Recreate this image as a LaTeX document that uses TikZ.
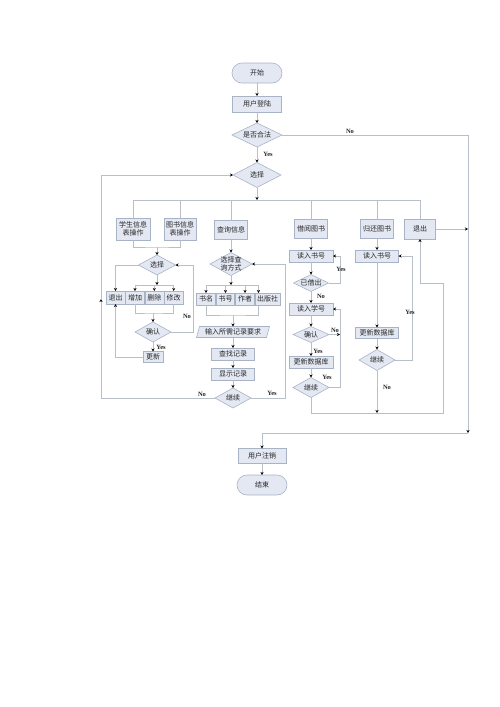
\documentclass[tikz,border=0pt]{standalone}
\usepackage{fontspec}
\setmainfont{Liberation Serif}
\newfontfamily\cjk{Noto Sans CJK SC}
\usepackage{xcolor}
\usepackage{tikz}
\usetikzlibrary{shapes.geometric,arrows.meta,positioning,calc}
\definecolor{boxfill}{HTML}{E3E8F2}
\definecolor{boxline}{HTML}{A9B3C6}
\definecolor{flowline}{HTML}{B9BFC9}
\definecolor{labeltext}{HTML}{262626}

\begin{document}
\begin{tikzpicture}[
    x=1pt,
    y=-1pt,
    every node/.style={inner sep=0pt, outer sep=0pt},
    block/.style={
        rectangle,
        fill=boxfill,
        draw=boxline,
        line width=0.6pt,
        align=center,
        font=\cjk\fontsize{7}{8.5}\selectfont,
        text=labeltext
    },
    terminal/.style={
        block,
        rounded corners=10pt,
        minimum width=50pt,
        minimum height=20pt
    },
    topbox/.style={block, minimum width=33pt, minimum height=19pt},
    stepbox/.style={block, minimum width=44pt, minimum height=12pt},
    rowbox/.style={block, minimum width=19pt, minimum height=13pt},
    decision/.style={block, diamond, aspect=2},
    inputbox/.style={
        block,
        trapezium,
        trapezium left angle=65,
        trapezium right angle=115,
        trapezium stretches body=true,
        minimum width=73pt,
        minimum height=11pt
    },
    flow/.style={
        line width=0.6pt,
        color=flowline
    },
    arrow/.style={
        flow,
        ->,
        >={Stealth[length=3pt, width=3pt, color=black]}
    },
    yesno/.style={
        font=\bfseries\fontsize{6.5}{7}\selectfont,
        text=labeltext
    }
]
\useasboundingbox (0,0) rectangle (500,707);

% Main line
\node[terminal] (start) at (257,73) {开始};
\node[block, minimum width=49pt, minimum height=16pt] (login) at (257,104) {用户登陆};
\node[decision, minimum width=50pt, minimum height=24pt] (legal) at (257,135) {是否合法};
\node[decision, minimum width=48pt, minimum height=25pt] (choose) at (257,175) {选择};

% Six branches
\node[topbox, minimum width=34pt, minimum height=22pt] (stuop) at (133,229) {学生信息\\表操作};
\node[topbox, minimum width=32pt, minimum height=22pt] (bookop) at (180,229) {图书信息\\表操作};
\node[topbox] (query) at (231,230) {查询信息};
\node[topbox] (borrow) at (311,229) {借阅图书};
\node[topbox] (giveback) at (377,229) {归还图书};
\node[topbox, minimum width=31pt, minimum height=20pt] (quit) at (420,229) {退出};

% Table operations
\node[decision, minimum width=37pt, minimum height=20pt] (stusel) at (157,265) {选择};
\node[rowbox] (rquit) at (115.5,297.5) {退出};
\node[rowbox] (radd) at (135,297.5) {增加};
\node[rowbox] (rdel) at (154.3,297.5) {删除};
\node[rowbox] (rmod) at (173.7,297.5) {修改};
\node[decision, minimum width=36pt, minimum height=20pt] (stuconf) at (153,332) {确认};
\node[block, minimum width=20pt, minimum height=11pt] (stuupd) at (153,357) {更新};

% Query
\node[decision, minimum width=42pt, minimum height=23pt, inner sep=-2pt] (qway) at (231,264) {选择查\\询方式};
\node[rowbox, minimum height=12pt] (bname) at (206,299) {书名};
\node[rowbox, minimum width=18pt, minimum height=12pt] (bno) at (225.5,299) {书号};
\node[rowbox, minimum height=12pt] (bauth) at (245,299) {作者};
\node[rowbox, minimum width=25pt, minimum height=12pt] (bpub) at (267.5,299) {出版社};
\node[inputbox] (qinput) at (233,332) {输入所需记录要求};
\node[stepbox, minimum width=43pt] (qfind) at (233,354) {查找记录};
\node[stepbox, minimum width=43pt] (qshow) at (233,374) {显示记录};
\node[decision, minimum width=36pt, minimum height=20pt] (qcont) at (233,398) {继续};

% Borrow
\node[stepbox] (bnum) at (311,256) {读入书号};
\node[decision, minimum width=35pt, minimum height=16pt] (blent) at (311,283) {已借出};
\node[stepbox] (bstu) at (311,309) {读入学号};
\node[decision, minimum width=36pt, minimum height=16pt] (bconf) at (311,334.5) {确认};
\node[stepbox] (bupd) at (311,362) {更新数据库};
\node[decision, minimum width=36pt, minimum height=20pt] (bcont) at (311,387.5) {继续};

% Give back
\node[stepbox, minimum width=43pt] (gnum) at (377,256) {读入书号};
\node[stepbox, minimum width=43pt, minimum height=11pt] (gupd) at (377,333) {更新数据库};
\node[decision, minimum width=36pt, minimum height=21pt] (gcont) at (377,360) {继续};

% End
\node[block, minimum width=48pt, minimum height=15pt] (logout) at (262,456) {用户注销};
\node[terminal] (finish) at (262,485) {结束};

% Junctions
\coordinate (busR) at (420,200);
\coordinate (stujoin) at (157,247);
\coordinate (selbus) at (157,285);
\coordinate (rowjoin) at (153,313);
\coordinate (selret) at (193,265);
\coordinate (loopL) at (101,299);
\coordinate (qbus) at (231,285);
\coordinate (qjoin) at (233,315);
\coordinate (qret) at (285,264);
\coordinate (pubtop) at ([xshift=-9pt]bpub.north);
\coordinate (pubbot) at ([xshift=-9pt]bpub.south);
\coordinate (lentret) at (340,256);
\coordinate (sturet) at (340,309);
\coordinate (gret) at (412,256);
\coordinate (retB) at (443,413);
\coordinate (retT) at (443,283);
\coordinate (exitR) at (468,433);

% Main connections
\draw[arrow] (start) -- (login);
\draw[arrow] (login) -- (legal);
\draw[arrow] (legal) -- (choose);
\draw[arrow] (legal.east) -| (exitR);
\draw[arrow] (exitR) -| (logout.north);
\draw[arrow] (logout) -- (finish);
\draw[arrow] (choose) -- (choose |- busR);
\draw[flow] (stuop.north) |- (busR) -- (quit.north);
\foreach \branch in {bookop, query, borrow, giveback} {
    \draw[flow] (\branch.north) -- (\branch.north |- busR);
}
\draw[arrow] (quit.east) -- (quit.east -| exitR);
\draw[arrow] (qcont.west) -| (loopL);
\draw[arrow] (loopL) |- (choose.west);

% Table operations
\draw[flow] (stuop.south) |- (stujoin) -| (bookop.south);
\draw[arrow] (stujoin) -- (stusel);
\draw[arrow] (stusel.west) -| (rquit.north);
\draw[arrow] (stusel) -- (selbus);
\draw[flow] (radd.north |- selbus) -- (rmod.north |- selbus);
\foreach \op in {radd, rdel, rmod} {
    \draw[arrow] (\op.north |- selbus) -- (\op.north);
}
\draw[flow] (radd.south) |- (rowjoin) -| (rmod.south);
\draw[arrow] (rowjoin) -- (stuconf);
\draw[arrow] (stuconf) -- (stuupd);
\draw[arrow] (stuupd.west) -| (rquit.south);
\draw[arrow] (stuconf.east) -| (selret) -- (stusel.east);

% Query
\draw[arrow] (query) -- (qway);
\draw[arrow] (qway) -- (qbus);
\draw[flow] (bname.north |- qbus) -- (pubtop |- qbus);
\foreach \key in {bname, bno, bauth} {
    \draw[arrow] (\key.north |- qbus) -- (\key.north);
}
\draw[arrow] (pubtop |- qbus) -- (pubtop);
\draw[flow] (bname.south) |- (qjoin) -| (pubbot);
\draw[arrow] (qjoin) -- (qinput);
\draw[arrow] (qinput) -- (qfind);
\draw[arrow] (qfind) -- (qshow);
\draw[arrow] (qshow) -- (qcont);
\draw[arrow] (qcont.east) -| (qret) -- (qway.east);

% Borrow
\draw[arrow] (borrow) -- (bnum);
\draw[arrow] (bnum) -- (blent);
\draw[arrow] (blent) -- (bstu);
\draw[arrow] (bstu) -- (bconf);
\draw[arrow] (bconf) -- (bupd);
\draw[arrow] (bupd) -- (bcont);
\draw[arrow] (blent.east) -| (lentret) -- (bnum.east);
\draw[arrow] (bcont.east) -| (sturet) -- (bstu.east);
\draw[arrow] (bconf.east) -- (bconf.east -| sturet);
\draw[arrow] (bcont.south) |- (retB) -- (retT) -| (quit.south);

% Give back
\draw[arrow] (giveback) -- (gnum);
\draw[arrow] (gnum) -- (gupd);
\draw[arrow] (gupd) -- (gcont);
\draw[arrow] (gcont.east) -| (gret) -- (gnum.east);
\draw[arrow] (gcont.south) -- (gcont.south |- retB);

% Yes / No labels
\node[yesno] (nolegal) at (350,131) {No};
\node[yesno] (yeslegal) at (268,154) {Yes};
\node[yesno] (nosel) at (187,316) {No};
\node[yesno] (yessel) at (161,347) {Yes};
\node[yesno] (noq) at (202,394) {No};
\node[yesno] (yesq) at (272,393) {Yes};
\node[yesno] (yeslent) at (341,269) {Yes};
\node[yesno] (nolent) at (321,296) {No};
\node[yesno] (nobconf) at (335,330) {No};
\node[yesno] (yesbconf) at (318,351) {Yes};
\node[yesno] (yesbcont) at (327,377) {Yes};
\node[yesno] (yesgcont) at (410,312) {Yes};
\node[yesno] (nogcont) at (387,387) {No};

\end{tikzpicture}
\end{document}
